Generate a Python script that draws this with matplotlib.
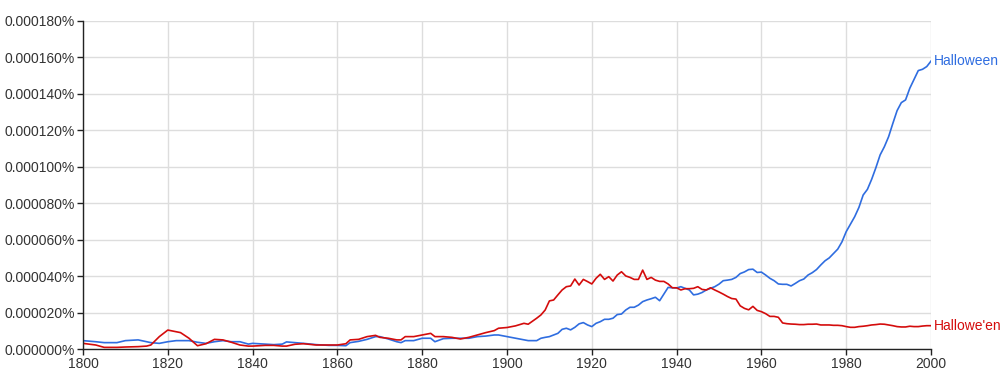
import numpy as np
import matplotlib
matplotlib.use("Agg")
from matplotlib import pyplot as plt
from matplotlib.ticker import FuncFormatter, MultipleLocator

plt.rcParams['font.family'] = ['Liberation Sans', 'DejaVu Sans']

# years sampled off the chart
years = [1800, 1803, 1805, 1808, 1810, 1813, 1815, 1816, 1818, 1820, 1822, 1823,
         1825, 1827, 1829, 1831, 1833, 1835, 1837, 1839, 1840, 1843, 1845, 1847,
         1848, 1850, 1852, 1855, 1858, 1860, 1862, 1863, 1865, 1867, 1869,
         1870, 1872, 1874, 1875, 1876, 1878, 1880, 1882, 1883, 1885, 1887, 1889,
         1891, 1893, 1895, 1897, 1898, 1900, 1902, 1904, 1905, 1907, 1908, 1909,
         1910, 1911, 1912, 1913, 1914, 1915, 1916, 1917, 1918, 1919, 1920, 1921,
         1922, 1923, 1924, 1925, 1926, 1927, 1928, 1929, 1930, 1931, 1932, 1933,
         1934, 1935, 1936, 1937, 1938, 1939, 1940, 1941, 1942, 1943, 1944, 1945,
         1946, 1947, 1948, 1949, 1950, 1951, 1952, 1953, 1954, 1955, 1956, 1957,
         1958, 1959, 1960, 1961, 1962, 1963, 1964, 1965, 1966, 1967, 1968, 1969,
         1970, 1971, 1972, 1973, 1974, 1975, 1976, 1977, 1978, 1979, 1980, 1981,
         1982, 1983, 1984, 1985, 1986, 1987, 1988, 1989, 1990, 1991, 1992, 1993,
         1994, 1995, 1996, 1997, 1998, 1999, 2000]

# values in millionths of a percent
halloween = [4.6, 4.0, 3.5, 3.5, 4.6, 5.0, 4.0, 3.5, 3.1, 4.0, 4.6, 4.6,
             4.6, 3.7, 3.1, 4.0, 4.6, 4.0, 4.0, 2.7, 3.1, 2.7, 2.4, 2.7,
             3.9, 3.5, 3.1, 2.4, 2.0, 2.0, 1.8, 3.5, 4.2, 5.3, 6.8,
             6.8, 5.5, 4.0, 3.5, 4.6, 4.6, 5.9, 5.9, 4.0, 5.7, 5.9, 5.9,
             5.9, 6.8, 7.1, 7.7, 7.7, 6.8, 5.9, 5.0, 4.6, 4.6, 5.9, 6.4,
             6.8, 7.7, 8.6, 10.8, 11.4, 10.5, 11.9, 13.8, 14.5, 13.2, 12.3, 14.1,
             15.0, 16.3, 16.3, 16.9, 18.9, 19.2, 21.4, 22.9, 22.9, 24.1, 26.0, 26.9,
             27.6, 28.4, 26.5, 30.2, 33.8, 33.6, 33.5, 34.2, 33.3, 32.4, 29.7, 30.1,
             31.0, 32.4, 33.3, 34.2, 35.6, 37.5, 37.8, 38.2, 39.3, 41.4, 42.3, 43.6,
             43.8, 42.0, 42.2, 40.6, 38.8, 37.5, 35.7, 35.5, 35.5, 34.6, 36.0, 37.5,
             38.4, 40.6, 41.9, 43.6, 46.1, 48.4, 50.0, 52.4, 54.8, 58.8, 64.4, 68.5,
             72.6, 77.7, 84.5, 87.6, 93.1, 99.5, 106.5, 111.0, 116.5, 123.8, 130.8, 135.2,
             136.7, 143.1, 148.0, 152.8, 153.5, 155.0, 158.0]

hallowe_en = [3.1, 2.2, 0.9, 0.9, 1.1, 1.3, 1.6, 2.2, 6.8, 10.4, 9.5, 9.0,
              5.9, 1.8, 2.9, 5.3, 5.0, 3.7, 2.2, 1.6, 1.6, 2.0, 2.0, 1.6,
              1.6, 2.6, 2.9, 2.2, 2.2, 2.2, 2.9, 5.0, 5.3, 6.8, 7.5,
              6.4, 5.9, 5.0, 5.0, 6.8, 6.8, 7.7, 8.6, 6.8, 6.8, 6.4, 5.5,
              6.4, 7.7, 9.0, 10.1, 11.4, 11.8, 12.7, 14.1, 13.6, 16.9, 18.7, 21.4,
              26.4, 26.9, 29.7, 32.4, 34.2, 34.6, 38.4, 35.1, 38.2, 37.0, 35.7, 38.8,
              41.0, 38.2, 39.7, 37.3, 40.6, 42.4, 40.1, 39.3, 38.2, 38.2, 43.3, 38.2,
              39.3, 37.8, 37.1, 37.1, 35.7, 33.6, 33.6, 32.4, 33.1, 33.1, 33.3, 34.2,
              32.7, 32.4, 33.6, 32.4, 31.3, 30.1, 28.8, 27.7, 27.4, 23.7, 22.3, 21.5,
              23.4, 21.2, 20.5, 19.4, 17.9, 17.9, 17.4, 14.3, 13.9, 13.7, 13.6, 13.4,
              13.4, 13.6, 13.6, 13.7, 13.2, 13.2, 13.2, 13.0, 13.0, 12.8, 12.3, 11.9,
              11.9, 12.3, 12.5, 12.8, 13.2, 13.4, 13.7, 13.6, 13.2, 12.8, 12.3, 12.1,
              12.1, 12.5, 12.3, 12.3, 12.6, 12.8, 12.8]

blue = '#2f6de0'
red = '#d40c0c'

halloween = np.array(halloween) * 1e-6
hallowe_en = np.array(hallowe_en) * 1e-6

fig = plt.figure(figsize=(10, 3.75), dpi=100)
ax = fig.add_axes([0.083, 0.0693, 0.848, 0.8747])

ax.plot(years, halloween, color=blue, lw=1.2, zorder=3)
ax.plot(years, hallowe_en, color=red, lw=1.2, zorder=3)

ax.set_xlim(1800, 2000)
ax.set_ylim(0, 0.00018)
ax.xaxis.set_major_locator(MultipleLocator(20))
ax.yaxis.set_major_locator(MultipleLocator(0.00002))
ax.yaxis.set_major_formatter(FuncFormatter(lambda v, p: '%.6f%%' % v))
ax.grid(True, color='#dddddd', lw=1.0, zorder=0)

for s in ['top', 'right']:
    ax.spines[s].set_visible(False)
for s in ['left', 'bottom']:
    ax.spines[s].set_color('#222222')
    ax.spines[s].set_linewidth(1.0)
    ax.spines[s].set_zorder(4)
ax.tick_params(axis='both', length=4, width=1, color='#222222',
               labelsize=10, labelcolor='#333333', pad=2)
ax.set_axisbelow(True)

ax.text(2000.7, halloween[-1], 'Halloween', color=blue, fontsize=10,
        va='center', ha='left', clip_on=False)
ax.text(2000.7, hallowe_en[-1], "Hallowe'en", color=red, fontsize=10,
        va='center', ha='left', clip_on=False)

fig.savefig('out.png', dpi=100)
